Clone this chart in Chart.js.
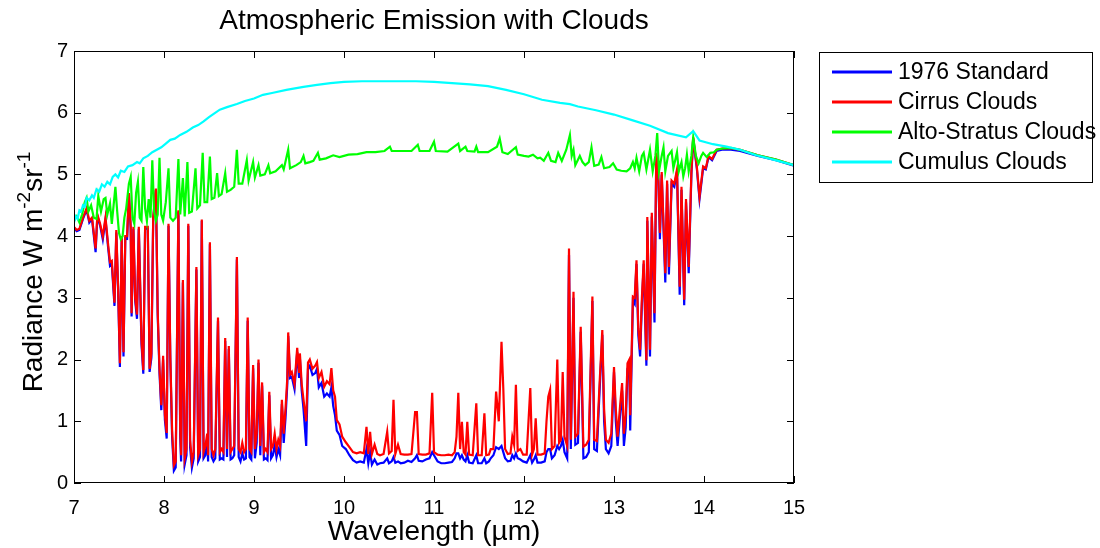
<!DOCTYPE html>
<html>
<head>
<meta charset="utf-8">
<script src="https://cdn.jsdelivr.net/npm/chart.js@4/dist/chart.umd.min.js"></script>
<style>
  html, body { margin: 0; padding: 0; background: #fff; }
  #wrap { width: 1100px; height: 548px; }
</style>
</head>
<body>
<div id="wrap"><canvas id="myChart" width="1100" height="548"></canvas></div>
<script>
// wavelength grid (µm) shared by the clear-sky and cirrus spectra
const specWl = [
  7.00,7.03,7.06,7.10,7.14,7.17,7.20,7.24,7.26,7.29,
  7.32,7.35,7.38,7.40,7.42,7.45,7.47,7.49,7.51,7.53,
  7.55,7.57,7.59,7.61,7.63,7.64,7.66,7.68,7.70,7.72,
  7.75,7.77,7.79,7.82,7.84,7.86,7.88,7.91,7.93,7.95,
  7.97,7.99,8.01,8.03,8.05,8.07,8.09,8.11,8.13,8.16,
  8.18,8.19,8.21,8.23,8.25,8.27,8.29,8.31,8.33,8.36,
  8.38,8.40,8.42,8.44,8.46,8.48,8.49,8.51,8.53,8.55,
  8.57,8.60,8.62,8.64,8.66,8.68,8.70,8.72,8.74,8.76,
  8.78,8.81,8.83,8.85,8.87,8.89,8.91,8.93,8.95,8.97,
  8.99,9.01,9.03,9.05,9.07,9.09,9.11,9.13,9.15,9.17,
  9.19,9.21,9.23,9.25,9.27,9.29,9.31,9.33,9.35,9.37,
  9.38,9.40,9.42,9.45,9.48,9.50,9.51,9.53,9.55,9.58,
  9.60,9.62,9.65,9.68,9.70,9.72,9.75,9.78,9.81,9.84,
  9.86,9.88,9.90,9.92,9.95,9.98,10.02,10.06,10.10,10.14,
  10.18,10.22,10.25,10.27,10.29,10.31,10.34,10.37,10.40,10.44,
  10.48,10.50,10.53,10.55,10.57,10.60,10.63,10.67,10.71,10.75,
  10.79,10.81,10.83,10.87,10.91,10.95,10.98,11.00,11.04,11.08,
  11.12,11.16,11.20,11.23,11.25,11.27,11.29,11.31,11.33,11.35,
  11.37,11.39,11.43,11.47,11.49,11.53,11.56,11.58,11.61,11.63,
  11.66,11.69,11.72,11.75,11.77,11.79,11.82,11.85,11.87,11.89,
  11.91,11.93,11.96,11.99,12.03,12.07,12.09,12.11,12.13,12.15,
  12.19,12.23,12.25,12.27,12.29,12.31,12.34,12.37,12.39,12.41,
  12.43,12.45,12.48,12.50,12.52,12.55,12.57,12.60,12.63,12.66,
  12.69,12.72,12.76,12.78,12.81,12.84,12.87,12.89,12.91,12.94,
  12.97,13.00,13.02,13.04,13.07,13.09,13.11,13.13,13.15,13.17,
  13.18,13.21,13.23,13.25,13.27,13.29,13.31,13.33,13.36,13.37,
  13.40,13.42,13.45,13.47,13.49,13.51,13.53,13.57,13.59,13.61,
  13.64,13.67,13.70,13.73,13.75,13.78,13.80,13.83,13.86,13.88,
  13.92,13.95,13.99,14.02,14.05,14.09,14.14,14.20,14.30,14.40,
  14.60,14.80,15.00
];

const standard1976 = [
  4.13,4.08,4.10,4.28,4.43,4.22,4.28,3.74,4.33,4.17,
  3.95,4.27,3.80,3.52,3.55,2.87,4.06,3.12,1.88,3.96,
  2.05,3.97,3.96,4.68,4.12,2.70,4.12,2.95,2.66,4.12,
  2.25,1.77,4.12,4.12,1.80,2.03,4.28,4.75,2.72,1.78,
  1.18,2.00,1.02,0.72,4.17,2.00,0.75,0.20,0.25,4.40,
  0.75,0.35,3.25,0.30,0.45,4.17,0.58,0.25,0.40,3.46,
  0.35,0.42,4.25,0.40,0.45,0.68,0.35,3.87,0.42,0.35,
  0.40,2.63,0.38,0.40,0.38,2.30,0.42,2.17,0.38,0.40,
  0.45,3.62,0.42,0.35,0.48,0.38,0.40,2.63,0.42,0.38,
  1.86,0.40,0.65,1.95,0.45,1.58,0.38,0.40,0.37,1.42,
  0.40,0.45,0.62,0.42,0.55,0.45,1.28,0.65,1.05,1.60,
  2.38,1.70,1.72,1.52,2.12,1.72,2.02,1.50,1.20,0.60,
  1.85,1.90,1.75,1.78,1.85,1.55,1.62,1.40,1.45,1.40,
  1.55,1.25,1.10,0.85,0.78,0.60,0.55,0.45,0.37,0.33,
  0.35,0.33,0.55,0.32,0.50,0.30,0.38,0.30,0.32,0.33,
  0.40,0.32,0.35,0.42,0.33,0.35,0.32,0.33,0.36,0.34,
  0.40,0.45,0.36,0.35,0.38,0.40,0.50,0.45,0.35,0.32,
  0.32,0.33,0.34,0.40,0.48,0.48,0.40,0.45,0.38,0.35,
  0.45,0.33,0.32,0.45,0.32,0.32,0.40,0.32,0.35,0.40,
  0.45,0.58,0.55,0.60,0.50,0.40,0.35,0.36,0.45,0.40,
  0.48,0.40,0.38,0.35,0.33,0.45,0.33,0.38,0.45,0.33,
  0.33,0.35,0.50,0.55,0.55,0.40,0.45,0.60,0.55,0.60,
  0.70,0.50,0.40,3.70,0.55,3.00,0.62,0.65,2.45,0.40,
  0.42,0.50,2.95,0.55,0.52,1.50,2.40,1.00,0.55,0.48,
  0.60,1.80,1.00,0.60,1.15,1.50,0.60,0.90,1.85,1.90,
  0.85,2.95,2.90,3.55,2.40,2.05,2.90,3.55,1.90,4.25,
  2.05,4.32,2.60,5.30,5.05,3.95,5.00,3.25,4.85,3.38,
  4.85,4.80,5.05,3.05,4.75,2.88,4.55,3.40,5.00,5.58,
  5.10,4.60,5.10,5.08,5.28,5.23,5.38,5.40,5.40,5.38,
  5.30,5.23,5.14
];

const cirrus = [
  4.15,4.10,4.12,4.30,4.45,4.25,4.30,3.80,4.35,4.20,
  4.00,4.30,3.85,3.58,3.60,2.92,4.10,3.18,1.94,4.00,
  2.12,4.00,4.00,4.70,4.15,2.75,4.15,3.00,2.73,4.15,
  2.32,1.83,4.15,4.15,1.85,2.10,4.30,4.77,2.78,1.85,
  1.26,2.06,1.10,0.81,4.20,2.06,0.85,0.29,0.35,4.42,
  0.85,0.45,3.29,0.40,0.55,4.20,0.70,0.35,0.50,3.50,
  0.45,0.55,4.27,0.50,0.60,0.80,0.45,3.90,0.55,0.45,
  0.55,2.68,0.50,0.55,0.50,2.35,0.55,2.22,0.50,0.55,
  0.60,3.66,0.55,0.50,0.65,0.50,0.55,2.68,0.55,0.50,
  1.91,0.55,0.80,2.00,0.60,1.63,0.50,0.55,0.50,1.48,
  0.55,0.60,0.80,0.55,0.70,0.60,1.35,0.80,1.20,1.70,
  2.44,1.76,1.80,1.60,2.19,1.80,2.10,1.60,1.35,1.00,
  1.95,2.00,1.85,1.90,1.96,1.70,1.80,1.56,1.65,1.60,
  1.86,1.50,1.40,1.02,0.95,0.75,0.66,0.58,0.50,0.48,
  0.50,0.48,0.91,0.47,0.83,0.47,0.62,0.47,0.45,0.47,
  0.83,0.48,0.52,1.35,0.47,0.62,0.47,0.46,0.46,0.47,
  1.15,1.15,0.47,0.46,0.46,0.48,1.46,0.50,0.46,0.45,
  0.45,0.46,0.45,0.50,0.75,1.46,0.55,0.99,0.50,0.46,
  0.99,0.46,0.45,1.29,0.45,0.45,1.13,0.45,0.46,0.55,
  0.55,1.48,1.00,2.29,1.53,0.55,0.47,0.48,0.75,0.62,
  1.59,0.52,0.55,0.46,0.46,1.54,0.46,0.55,1.05,0.46,
  0.46,0.48,1.00,1.40,1.51,0.55,0.60,2.00,0.65,0.70,
  1.80,0.75,0.60,3.80,0.70,3.10,0.75,0.80,2.53,0.59,
  0.62,0.70,3.02,0.70,0.68,1.62,2.48,1.20,0.70,0.65,
  0.80,1.88,1.20,0.75,1.29,1.62,0.80,1.10,1.94,2.00,
  1.10,3.02,3.00,3.61,2.50,2.16,3.00,3.61,1.99,4.31,
  2.16,4.38,2.75,5.35,5.10,4.05,5.04,3.40,4.90,3.50,
  4.90,4.85,5.08,3.18,4.80,2.97,4.60,3.50,5.05,5.60,
  5.13,4.64,5.13,5.10,5.30,5.25,5.40,5.42,5.42,5.40,
  5.31,5.24,5.15
];

// alto-stratus spectrum, own grid
const altoWl = [
  7.00,7.03,7.06,7.09,7.12,7.14,7.16,7.19,7.22,7.25,
  7.27,7.30,7.33,7.35,7.37,7.40,7.42,7.44,7.46,7.48,
  7.50,7.52,7.54,7.56,7.58,7.61,7.63,7.65,7.67,7.69,
  7.71,7.73,7.75,7.77,7.79,7.81,7.83,7.85,7.87,7.89,
  7.91,7.93,7.95,7.97,7.99,8.02,8.05,8.07,8.10,8.13,
  8.16,8.18,8.21,8.23,8.26,8.28,8.31,8.35,8.37,8.40,
  8.43,8.45,8.48,8.51,8.53,8.56,8.59,8.61,8.64,8.68,
  8.70,8.74,8.78,8.81,8.83,8.87,8.92,8.94,8.99,9.01,
  9.05,9.07,9.12,9.16,9.18,9.24,9.31,9.33,9.38,9.40,
  9.47,9.52,9.55,9.57,9.62,9.66,9.71,9.73,9.80,9.88,
  9.95,10.05,10.15,10.25,10.35,10.45,10.51,10.53,10.65,10.75,
  10.82,10.84,10.95,11.00,11.02,11.15,11.27,11.29,11.35,11.37,
  11.45,11.47,11.49,11.55,11.60,11.70,11.73,11.76,11.82,11.91,
  11.93,12.00,12.05,12.10,12.15,12.18,12.22,12.27,12.30,12.35,
  12.38,12.42,12.47,12.51,12.53,12.55,12.57,12.62,12.65,12.68,
  12.72,12.75,12.78,12.83,12.86,12.89,12.95,12.99,13.03,13.08,
  13.14,13.18,13.21,13.23,13.25,13.28,13.31,13.33,13.36,13.40,
  13.43,13.46,13.48,13.50,13.53,13.55,13.57,13.60,13.64,13.66,
  13.70,13.72,13.75,13.77,13.79,13.81,13.83,13.86,13.88,13.91,
  13.94,13.97,13.99,14.03,14.07,14.11,14.14,14.21,14.30,14.40,
  14.60,14.80,15.00
];
const altoStratus = [
  4.25,4.32,4.22,4.35,4.55,4.62,4.40,4.50,4.30,4.28,
  4.65,4.40,4.60,4.62,4.35,4.53,4.20,4.50,4.80,4.40,
  4.05,3.95,4.00,4.30,4.45,4.85,4.96,4.30,4.20,4.70,
  4.88,4.30,4.25,5.12,4.45,4.25,4.60,4.30,5.23,4.40,
  4.25,4.35,5.27,4.35,4.25,4.55,5.10,4.30,4.25,4.30,
  5.25,4.35,4.94,4.32,5.20,4.38,4.40,5.10,4.45,4.50,
  5.35,4.55,4.55,5.29,4.60,4.62,5.02,4.65,4.68,5.02,
  4.72,4.75,4.80,5.40,4.85,4.85,5.23,4.90,5.20,4.95,
  5.15,4.98,5.00,5.15,5.02,5.05,5.15,5.08,5.40,5.10,
  5.15,5.20,5.30,5.18,5.20,5.22,5.35,5.24,5.26,5.31,
  5.28,5.32,5.33,5.36,5.36,5.38,5.45,5.38,5.38,5.38,
  5.48,5.38,5.38,5.53,5.38,5.37,5.50,5.38,5.45,5.38,
  5.37,5.45,5.36,5.36,5.36,5.45,5.58,5.36,5.33,5.44,
  5.32,5.30,5.29,5.32,5.26,5.27,5.22,5.35,5.22,5.20,
  5.35,5.22,5.40,5.64,5.30,5.40,5.15,5.30,5.20,5.15,
  5.20,5.44,5.14,5.16,5.28,5.10,5.12,5.18,5.08,5.06,
  5.05,5.10,5.20,5.10,5.27,5.05,5.30,5.35,5.08,5.40,
  5.05,5.30,5.67,5.05,5.30,5.44,5.05,5.30,5.38,5.10,
  5.36,5.05,5.20,4.97,5.10,5.32,5.05,5.30,5.60,5.30,
  5.18,5.30,5.35,5.28,5.35,5.36,5.40,5.42,5.43,5.40,
  5.31,5.24,5.15
];

// cumulus spectrum, own grid
const cumulusWl = [
  7.00,7.02,7.04,7.06,7.08,7.10,7.12,7.14,7.17,7.20,
  7.22,7.25,7.28,7.31,7.34,7.37,7.40,7.43,7.46,7.49,
  7.52,7.56,7.60,7.65,7.70,7.73,7.77,7.82,7.87,7.92,
  7.97,8.02,8.07,8.12,8.18,8.25,8.32,8.38,8.44,8.50,
  8.56,8.62,8.70,8.81,8.90,9.00,9.10,9.20,9.36,9.55,
  9.70,9.85,10.00,10.20,10.50,10.80,11.00,11.20,11.40,11.60,
  11.80,12.00,12.20,12.40,12.51,12.60,12.80,13.00,13.20,13.40,
  13.60,13.80,13.88,13.95,14.10,14.25,14.40,14.58,14.77,15.00
];
const cumulus = [
  4.22,4.32,4.28,4.42,4.40,4.50,4.48,4.62,4.58,4.66,
  4.62,4.76,4.72,4.84,4.80,4.88,4.84,4.96,5.00,4.95,
  5.06,5.04,5.13,5.15,5.20,5.18,5.26,5.30,5.36,5.40,
  5.44,5.50,5.56,5.58,5.64,5.69,5.76,5.80,5.86,5.93,
  5.99,6.05,6.09,6.14,6.19,6.23,6.29,6.32,6.37,6.42,
  6.45,6.48,6.50,6.51,6.51,6.51,6.50,6.48,6.46,6.43,
  6.37,6.30,6.21,6.16,6.14,6.10,6.04,5.97,5.88,5.79,
  5.67,5.60,5.70,5.55,5.49,5.45,5.40,5.31,5.24,5.15
];

const xTicks = [7, 8, 9, 10, 11, 12, 13, 14, 15];
const yTicks = [0, 1, 2, 3, 4, 5, 6, 7];

const FONT = "'Liberation Sans', Arial, sans-serif";

function toPoints(xs, ys) {
  return xs.map((v, i) => ({ x: v, y: ys[i] }));
}

// title, axis box with inward ticks, y label with superscripts, legend
const chartDecor = {
  id: 'chartDecor',
  afterDraw(chart) {
    const { ctx, chartArea: { left, right, top, bottom }, scales: { x, y } } = chart;
    ctx.save();

    ctx.strokeStyle = '#000';
    ctx.lineWidth = 1;
    ctx.strokeRect(left + 0.5, top + 0.5, right - left - 1, bottom - top - 1);

    ctx.beginPath();
    xTicks.forEach(v => {
      const px = Math.round(x.getPixelForValue(v)) + 0.5;
      ctx.moveTo(px, bottom); ctx.lineTo(px, bottom - 7);
      ctx.moveTo(px, top); ctx.lineTo(px, top + 7);
    });
    yTicks.forEach(v => {
      const py = Math.round(y.getPixelForValue(v)) + 0.5;
      ctx.moveTo(left, py); ctx.lineTo(left + 7, py);
      ctx.moveTo(right, py); ctx.lineTo(right - 7, py);
    });
    ctx.stroke();

    ctx.fillStyle = '#000';
    ctx.textAlign = 'center';
    ctx.textBaseline = 'middle';
    ctx.font = '28px ' + FONT;
    ctx.fillText('Atmospheric Emission with Clouds', (left + right) / 2, 21);
    ctx.fillText('Wavelength (\u00b5m)', (left + right) / 2, 532);

    // y axis label, rotated
    ctx.save();
    ctx.translate(42, 272);
    ctx.rotate(-Math.PI / 2);
    ctx.textAlign = 'left';
    ctx.textBaseline = 'alphabetic';
    const parts = [
      ['Radiance W m', 28, 0],
      ['-2', 19, -12],
      ['sr', 28, 0],
      ['-1', 19, -12]
    ];
    let total = 0;
    parts.forEach(p => { ctx.font = p[1] + 'px ' + FONT; total += ctx.measureText(p[0]).width; });
    let cx = -total / 2;
    parts.forEach(p => {
      ctx.font = p[1] + 'px ' + FONT;
      ctx.fillText(p[0], cx, p[2]);
      cx += ctx.measureText(p[0]).width;
    });
    ctx.restore();

    // legend box
    ctx.strokeStyle = '#000';
    ctx.lineWidth = 1;
    ctx.strokeRect(819.5, 52.5, 273, 130);
    ctx.font = '23px ' + FONT;
    ctx.textAlign = 'left';
    ctx.textBaseline = 'middle';
    chart.data.datasets.forEach((ds, i) => {
      const ly = 72 + i * 30;
      ctx.strokeStyle = ds.borderColor;
      ctx.lineWidth = 3;
      ctx.beginPath();
      ctx.moveTo(832, ly); ctx.lineTo(892, ly);
      ctx.stroke();
      ctx.fillStyle = '#000';
      ctx.fillText(ds.label, 898, ly + 1);
    });

    ctx.restore();
  }
};

const data = {
  datasets: [
    { label: '1976 Standard', data: toPoints(specWl, standard1976), borderColor: '#0000ff', order: 4 },
    { label: 'Cirrus Clouds', data: toPoints(specWl, cirrus), borderColor: '#ff0000', order: 3 },
    { label: 'Alto-Stratus Clouds', data: toPoints(altoWl, altoStratus), borderColor: '#00ff00', order: 2 },
    { label: 'Cumulus Clouds', data: toPoints(cumulusWl, cumulus), borderColor: '#00ffff', order: 1 }
  ]
};

const config = {
  type: 'line',
  data,
  options: {
    responsive: false,
    animation: false,
    devicePixelRatio: 1,
    layout: { padding: { top: 51, right: 306, left: 0, bottom: 0 } },
    elements: {
      point: { radius: 0 },
      line: { borderWidth: 2.2, tension: 0 }
    },
    scales: {
      x: {
        type: 'linear',
        min: 7,
        max: 15,
        afterBuildTicks: s => { s.ticks = xTicks.map(v => ({ value: v })); },
        afterFit: s => { s.height = 65; },
        grid: { display: false, drawTicks: false },
        border: { display: false },
        ticks: { color: '#000', font: { family: FONT, size: 20 }, padding: 13, maxRotation: 0 }
      },
      y: {
        type: 'linear',
        min: 0,
        max: 7,
        afterBuildTicks: s => { s.ticks = yTicks.map(v => ({ value: v })); },
        afterFit: s => { s.width = 74; },
        grid: { display: false, drawTicks: false },
        border: { display: false },
        ticks: { color: '#000', font: { family: FONT, size: 20 }, padding: 6 }
      }
    },
    plugins: {
      legend: { display: false },
      tooltip: { enabled: false },
      title: { display: false }
    }
  },
  plugins: [chartDecor]
};

const myChart = new Chart(document.getElementById('myChart'), config);
</script>
</body>
</html>
